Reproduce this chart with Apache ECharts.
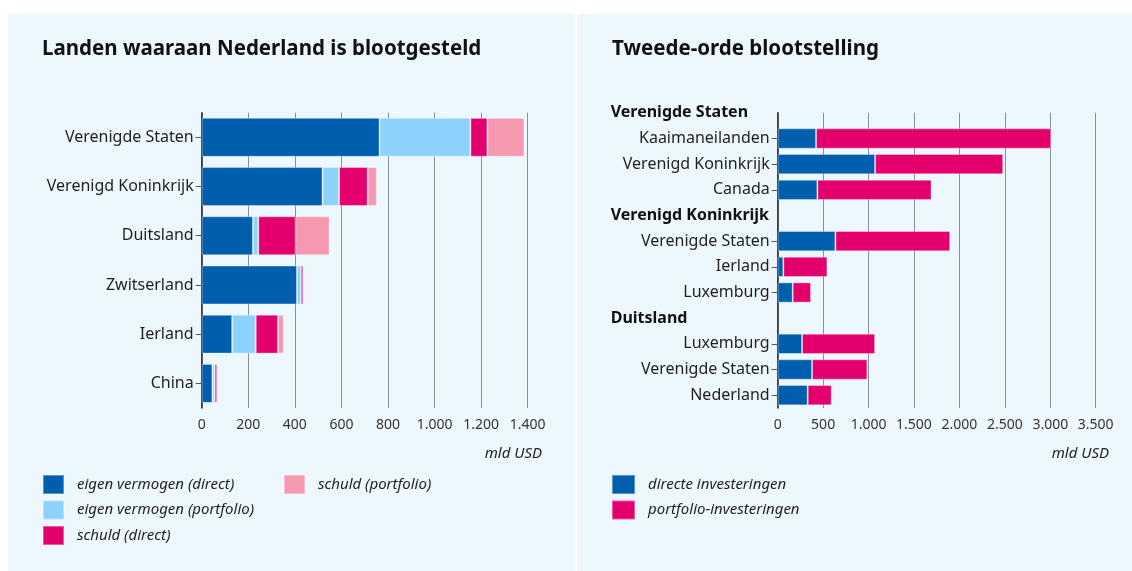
<!DOCTYPE html>
<html>
<head>
<meta charset="utf-8">
<title>Blootstelling</title>
<script src="https://cdn.jsdelivr.net/npm/echarts@6/dist/echarts.min.js"></script>
<style>
  html, body { margin: 0; padding: 0; background: #fff; }
  #chart { width: 1132px; height: 571px; }
</style>
</head>
<body>
<div id="chart"></div>
<script>
// linker grafiek: landen waaraan Nederland is blootgesteld (mld USD)
var leftCountries = ['Verenigde Staten', 'Verenigd Koninkrijk', 'Duitsland', 'Zwitserland', 'Ierland', 'China'];
var eigenDirect = [764, 519, 220, 409, 131, 46];
var eigenPortfolio = [390, 71, 23, 17, 101, 10];
var schuldDirect = [73, 123, 160, 10, 96, 10];
var schuldPortfolio = [159, 39, 146, 2, 24, 6];
var leftTicks = [0, 200, 400, 600, 800, 1000, 1200, 1400];

// rechter grafiek: tweede-orde blootstelling (kopjes zijn rijen zonder balk)
var rightRows = ['Verenigde Staten', 'Kaaimaneilanden', 'Verenigd Koninkrijk', 'Canada',
                 'Verenigd Koninkrijk', 'Verenigde Staten', 'Ierland', 'Luxemburg',
                 'Duitsland', 'Luxemburg', 'Verenigde Staten', 'Nederland'];
var rightHeader = [true, false, false, false, true, false, false, false, true, false, false, false];
var directe = [null, 422, 1072, 437, null, 635, 62, 165, null, 268, 378, 330];
var portfolio = [null, 2588, 1410, 1256, null, 1263, 485, 202, null, 804, 609, 264];
var rightTicks = [0, 500, 1000, 1500, 2000, 2500, 3000, 3500];

var FONT = 'Noto Sans';
var C_DARK = '#005eae';
var C_LIGHT = '#8dd2fd';
var C_MAG = '#e4006c';
var C_PINK = '#f599b0';

function dotThousands(v) {
    return String(v).replace(/\B(?=(\d{3})+(?!\d))/g, '.');
}

function barSeries(name, data, color, x, y) {
    return {
        name: name,
        type: 'bar',
        stack: 's' + x,
        xAxisIndex: x,
        yAxisIndex: y,
        barCategoryGap: '21%',
        itemStyle: {color: color, borderColor: 'rgba(255,255,255,0.35)', borderWidth: 1},
        emphasis: {disabled: true},
        data: data
    };
}

var myChart = echarts.init(document.getElementById('chart'));

var legendText = {fontFamily: FONT, fontStyle: 'italic', fontSize: 15, color: '#1f1f1f', padding: [0, 0, 0, 8]};

var option = {
    animation: false,
    textStyle: {fontFamily: FONT},
    graphic: [
        {type: 'rect', z: -10, shape: {x: 8, y: 14, width: 567, height: 557}, style: {fill: '#edf7fe'}},
        {type: 'rect', z: -10, shape: {x: 577, y: 14, width: 555, height: 557}, style: {fill: '#edf7fe'}},
        {type: 'text', x: 542, y: 454, style: {text: 'mld USD', align: 'right', verticalAlign: 'middle', font: 'italic 15px "Noto Sans"', fill: '#1f1f1f'}},
        {type: 'text', x: 1109, y: 454, style: {text: 'mld USD', align: 'right', verticalAlign: 'middle', font: 'italic 15px "Noto Sans"', fill: '#1f1f1f'}}
    ],
    title: [
        {text: 'Landen waaraan Nederland is blootgesteld', left: 42, top: 39, padding: 0,
         textStyle: {fontFamily: FONT, fontSize: 20.5, fontWeight: 'bold', color: '#111'}},
        {text: 'Tweede-orde blootstelling', left: 612, top: 39, padding: 0,
         textStyle: {fontFamily: FONT, fontSize: 20.5, fontWeight: 'bold', color: '#111'}}
    ],
    legend: [
        {orient: 'vertical', left: 42, top: 474, padding: 0, itemWidth: 21, itemHeight: 19, itemGap: 4.5,
         selectedMode: false, icon: 'rect', textStyle: legendText,
         data: ['eigen vermogen (direct)', 'eigen vermogen (portfolio)', 'schuld (direct)']},
        {orient: 'vertical', left: 283, top: 474, padding: 0, itemWidth: 21, itemHeight: 19,
         selectedMode: false, icon: 'rect', textStyle: legendText,
         data: ['schuld (portfolio)']},
        {orient: 'vertical', left: 611, top: 474, padding: 0, itemWidth: 23, itemHeight: 19, itemGap: 4.5,
         selectedMode: false, icon: 'rect', textStyle: legendText,
         data: ['directe investeringen', 'portfolio-investeringen']}
    ],
    grid: [
        {left: 201.7, right: 604.3, top: 112.7, bottom: 163},
        {left: 777.7, right: 36.3, top: 100, bottom: 163},
        {left: 777.7, right: 36.3, top: 112.7, bottom: 163}
    ],
    xAxis: [
        {
            type: 'value', gridIndex: 0,
            min: leftTicks[0], max: leftTicks[leftTicks.length - 1], interval: 200,
            axisLine: {show: false}, axisTick: {show: false},
            splitLine: {show: true, lineStyle: {color: '#8c9094', width: 1}},
            axisLabel: {fontSize: 14, color: '#333', margin: 10, formatter: dotThousands}
        },
        {
            type: 'value', gridIndex: 1,
            min: rightTicks[0], max: rightTicks[rightTicks.length - 1], interval: 500,
            axisLine: {show: false}, axisTick: {show: false}, splitLine: {show: false},
            axisLabel: {fontSize: 14, color: '#333', margin: 10, formatter: dotThousands}
        },
        {
            type: 'value', gridIndex: 2,
            min: rightTicks[0], max: rightTicks[rightTicks.length - 1], interval: 500,
            axisLine: {show: false}, axisTick: {show: false}, axisLabel: {show: false},
            splitLine: {show: true, lineStyle: {color: '#8c9094', width: 1}}
        }
    ],
    yAxis: [
        {
            type: 'category', gridIndex: 0, inverse: true, data: leftCountries,
            axisLine: {show: true, lineStyle: {color: '#222', width: 1.5}},
            axisTick: {show: true, alignWithLabel: true, length: 6, lineStyle: {color: '#555'}},
            axisLabel: {fontSize: 16, color: '#1f1f1f', margin: 8}
        },
        {
            type: 'category', gridIndex: 1, inverse: true, data: rightRows,
            axisLine: {show: false},
            axisTick: {show: true, alignWithLabel: true, length: 6, lineStyle: {color: '#555'},
                       interval: function (i) { return !rightHeader[i]; }},
            axisLabel: {
                fontSize: 16, color: '#1f1f1f', margin: 8, interval: 0,
                formatter: function (value, i) {
                    return rightHeader[i] ? '{h|' + value + '}' : value;
                },
                rich: {h: {fontFamily: FONT, fontSize: 16, fontWeight: 'bold', color: '#111', width: 159, align: 'left'}}
            }
        },
        {
            type: 'value', gridIndex: 2, min: 0, max: 1,
            axisLine: {show: true, lineStyle: {color: '#222', width: 1.5}},
            axisTick: {show: false}, axisLabel: {show: false}, splitLine: {show: false}
        }
    ],
    series: [
        barSeries('eigen vermogen (direct)', eigenDirect, C_DARK, 0, 0),
        barSeries('eigen vermogen (portfolio)', eigenPortfolio, C_LIGHT, 0, 0),
        barSeries('schuld (direct)', schuldDirect, C_MAG, 0, 0),
        barSeries('schuld (portfolio)', schuldPortfolio, C_PINK, 0, 0),
        barSeries('directe investeringen', directe, C_DARK, 1, 1),
        barSeries('portfolio-investeringen', portfolio, C_MAG, 1, 1)
    ]
};

myChart.setOption(option);
window.addEventListener('resize', function () {
    myChart.resize();
});
</script>
</body>
</html>
